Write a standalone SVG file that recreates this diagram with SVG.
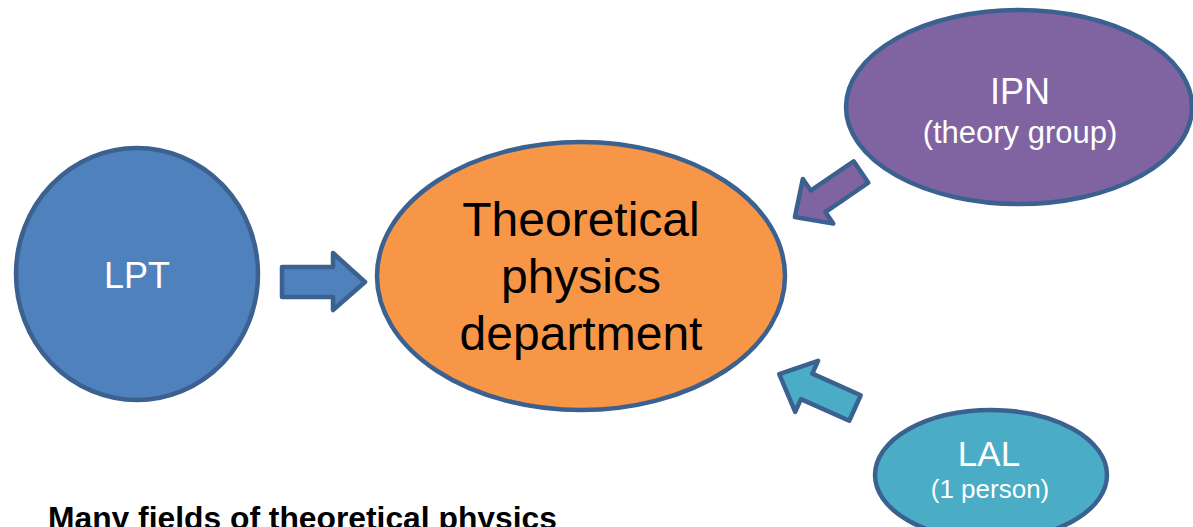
<svg xmlns="http://www.w3.org/2000/svg" width="1193" height="527" viewBox="0 0 1193 527">
<style>
.node{stroke:#3b6190;stroke-width:4.5}
.arrow{stroke:#3b6190;stroke-width:4.5;stroke-linejoin:round}
text{font-family:"Liberation Sans",Arial,sans-serif;text-anchor:middle}
.w{fill:#ffffff}
</style>
<rect width="1193" height="527" fill="#ffffff"/>
<g id="connectors">
<path class="arrow" fill="#4f81bd" d="M282,267 L333,267 L333,253 L365,282 L333,310 L333,297 L282,297 Z"/>
<path class="arrow" fill="#8064a2" transform="translate(861,172) rotate(145.7)" d="M0,-13 L52,-13 L52,-27 L80,0 L52,27 L52,13 L0,13 Z"/>
<path class="arrow" fill="#4bacc6" transform="translate(855,408) rotate(204.1)" d="M0,-14 L53,-14 L53,-28 L83,0 L53,28 L53,14 L0,14 Z"/>
</g>
<g id="lpt">
<ellipse class="node" cx="137" cy="274" rx="121" ry="126" fill="#4f81bd"/>
<text class="w" x="137" y="288" font-size="36">LPT</text>
</g>
<g id="dept">
<ellipse class="node" cx="581" cy="276" rx="204" ry="134" fill="#f79646"/>
<text x="581" y="236" font-size="48" fill="#000">Theoretical</text>
<text x="581" y="293" font-size="48" fill="#000">physics</text>
<text x="581" y="350" font-size="48" fill="#000">department</text>
</g>
<g id="ipn">
<ellipse class="node" cx="1019" cy="107" rx="173" ry="97" fill="#8064a2"/>
<text class="w" x="1020" y="104" font-size="36">IPN</text>
<text class="w" x="1020" y="143" font-size="31">(theory group)</text>
</g>
<g id="lal">
<ellipse class="node" cx="991" cy="475" rx="116" ry="65" fill="#4bacc6"/>
<text class="w" x="989" y="466" font-size="35">LAL</text>
<text class="w" x="990" y="498" font-size="26">(1 person)</text>
</g>
<text x="48" y="529" font-size="31.8" font-weight="bold" fill="#000" style="text-anchor:start">Many fields of theoretical physics</text>
</svg>
